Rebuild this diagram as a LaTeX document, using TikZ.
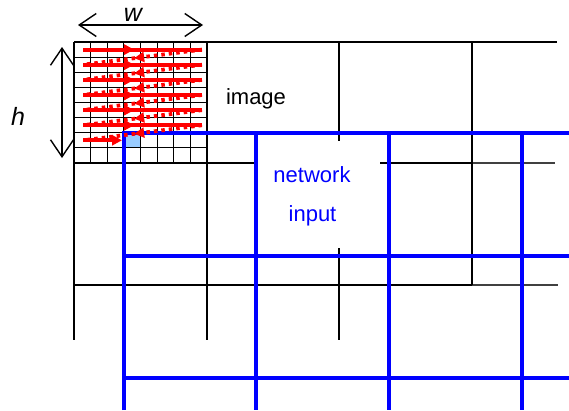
\documentclass[tikz,border=0pt]{standalone}
\usepackage{fontspec}
\setmainfont{Liberation Sans}
\usetikzlibrary{arrows.meta,decorations.markings}
\definecolor{netblue}{RGB}{0,0,255}
\definecolor{arrred}{RGB}{255,0,0}
\definecolor{cellblue}{RGB}{153,204,255}
\tikzset{
  gridthin/.style={draw=black, line width=0.8pt},
  gridthick/.style={draw=black, line width=1.8pt},
  gridfaint/.style={draw=black!75, line width=1.2pt},
  netgrid/.style={draw=netblue, line width=4pt},
  scanline/.style={draw=arrred, line width=3.8pt,
    postaction={decorate, decoration={markings,
      mark=at position 0.43 with {\arrow{Triangle[length=10pt,width=10pt]}}}}},
  scanback/.style={draw=arrred, line width=3.8pt, dash pattern=on 3.5pt off 4pt,
    postaction={decorate, decoration={markings,
      mark=at position 0.57 with {\arrow{Triangle[length=10pt,width=10pt]}}}}},
  scanlast/.style={draw=arrred, line width=3.8pt, -{Triangle[length=10pt,width=10pt]}},
  dimarrow/.style={draw=black, line width=1.4pt,
    {Straight Barb[length=17pt,width=23pt]}-{Straight Barb[length=17pt,width=23pt]}},
  lbl/.style={font=\fontsize{22pt}{26pt}\selectfont, inner sep=0pt, anchor=base},
  dimlbl/.style={font=\fontsize{25pt}{30pt}\selectfont\itshape, inner sep=0pt, anchor=base},
}
\begin{document}
\begin{tikzpicture}[x=1pt,y=-1pt]
\useasboundingbox (0,0) rectangle (569,410);
% highlighted first network-input pixel
\fill[cellblue] (124,133) rectangle (140.6,148.1);
% fine pixel grid inside top-left image cell
\foreach \k in {1,...,7} {
  \draw[gridthin] ({74+16.625*\k},42) -- ({74+16.625*\k},163);
  \draw[gridthin] (74,{42+15.125*\k}) -- (207,{42+15.125*\k});
}
% image grid
\draw[gridthick] (74,42) -- (557,42);
\draw[gridthick] (74,163) -- (472,163);
\draw[gridfaint] (472,163) -- (555,163);
\draw[gridthick] (74,285) -- (472,285);
\draw[gridfaint] (472,285) -- (558,285);
\draw[gridthick] (74,42) -- (74,340);
\draw[gridthick] (207,42) -- (207,340);
\draw[gridthick] (339,42) -- (339,340);
\draw[gridthick] (472,42) -- (472,285);
% label box for network input
\node[fill=white, inner sep=0pt, minimum width=124pt, minimum height=107pt] (netbox) at (318,194.5) {};
% network input grid
\draw[netgrid] (124,410) -- (124,133) -- (569,133);
\foreach \x in {256,389,522} { \draw[netgrid] (\x,133) -- (\x,410); }
\foreach \y in {256,378} { \draw[netgrid] (124,\y) -- (569,\y); }
% raster scan arrows
\foreach \k in {0,...,5} {
  \pgfmathsetmacro\ya{49.6+15.125*\k}
  \pgfmathsetmacro\yb{49.6+15.125*(\k+1)}
  \coordinate (sa\k) at (83,\ya);
  \coordinate (sb\k) at (202,\ya);
  \coordinate (sc\k) at (83,\yb);
  \draw[scanline] (sa\k) -- (sb\k);
  \draw[scanback] (sb\k) -- (sc\k);
}
\coordinate (la) at (83,140.3);
\coordinate (lb) at (122,140.3);
\draw[scanlast] (la) -- (lb);
% dimension arrows
\coordinate (wl) at (78,25);
\coordinate (wr) at (203,25);
\draw[dimarrow] (wl) -- (wr);
\coordinate (ht) at (62,47);
\coordinate (hb) at (62,158);
\draw[dimarrow] (ht) -- (hb);
% labels
\node[dimlbl] (wlab) at (133,21) {w};
\node[dimlbl] (hlab) at (18,125) {h};
\node[lbl] (imglab) at (256,104) {image};
\node[lbl, text=netblue] (netlab1) at (312,182) {network};
\node[lbl, text=netblue] (netlab2) at (312.5,221) {input};
\end{tikzpicture}
\end{document}
